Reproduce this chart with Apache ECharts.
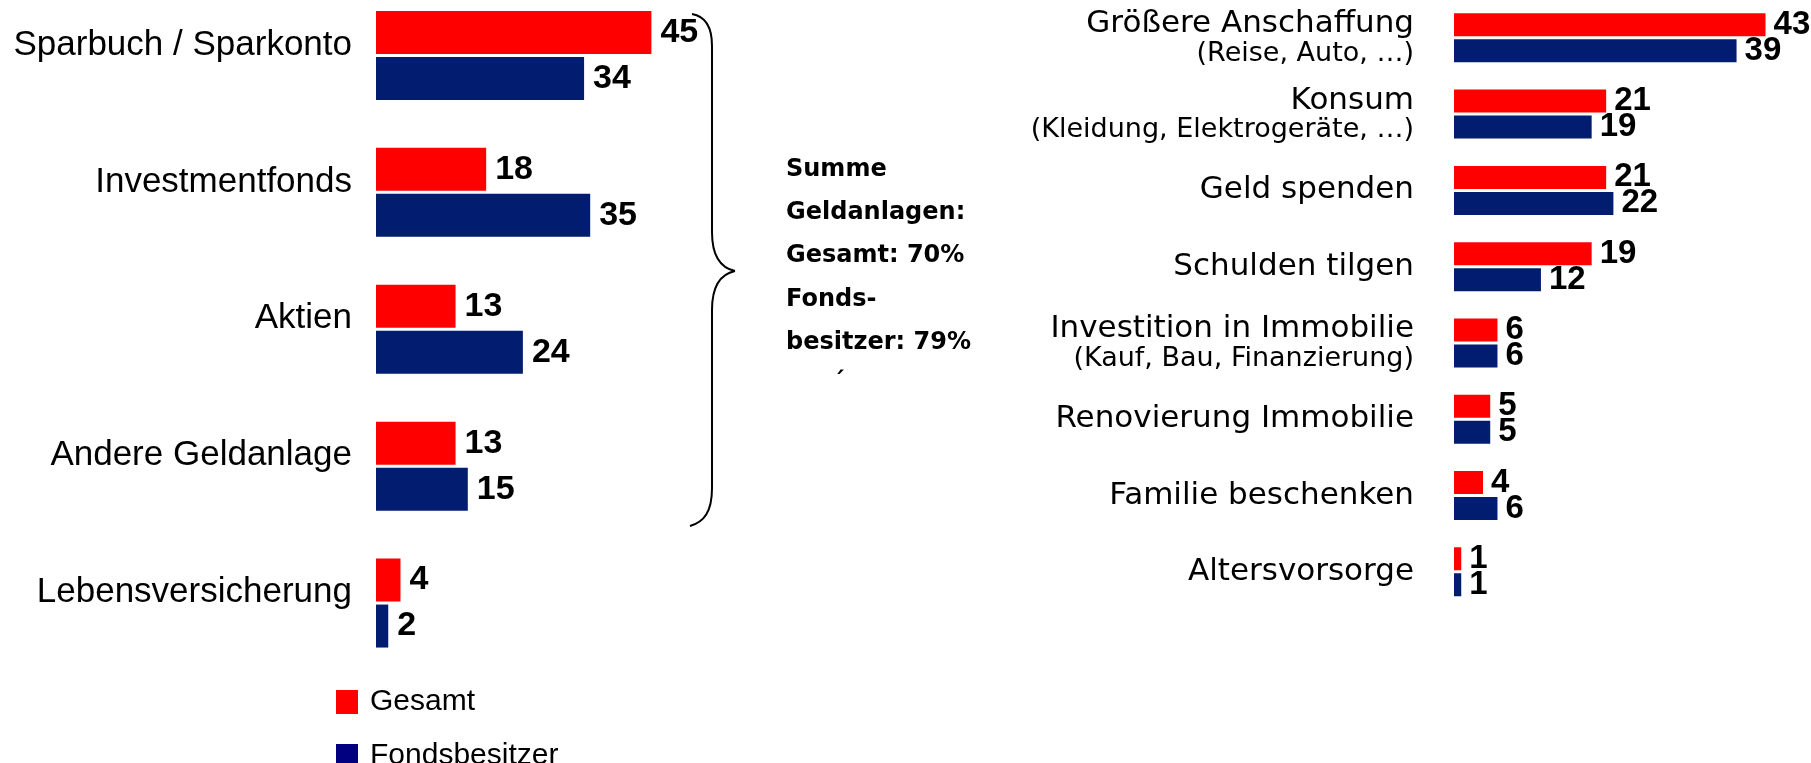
<!DOCTYPE html>
<html>
<head>
<meta charset="utf-8">
<script src="https://cdn.jsdelivr.net/npm/echarts@6/dist/echarts.min.js"></script>
<style>
  html, body { margin: 0; padding: 0; background: #fff; overflow: hidden; }
  /* chart is moved up a bit, so the first bar group can sit close to the top edge */
  #chart { position: absolute; left: 0; top: -13px; width: 1811px; height: 776px; }
</style>
</head>
<body>
<div id="chart"></div>
<script>
// Geldanlagen (links)
const anlageKategorien = ["Sparbuch / Sparkonto", "Investmentfonds", "Aktien", "Andere Geldanlage", "Lebensversicherung"];
const anlageGesamt = [45, 18, 13, 13, 4];
const anlageFonds = [34, 35, 24, 15, 2];

// Verwendung (rechts)
const verwendungKategorien = [
  "Größere Anschaffung\n(Reise, Auto, …)",
  "Konsum\n(Kleidung, Elektrogeräte, …)",
  "Geld spenden",
  "Schulden tilgen",
  "Investition in Immobilie\n(Kauf, Bau, Finanzierung)",
  "Renovierung Immobilie",
  "Familie beschenken",
  "Altersvorsorge"
];
const verwendungGesamt = [43, 21, 21, 19, 6, 5, 4, 1];
const verwendungFonds = [39, 19, 22, 12, 6, 5, 6, 1];

const summeText = ["Summe", "Geldanlagen:", "Gesamt: 70%", "Fonds-", "besitzer: 79%"];

const RED = "#ff0000";
const BLUE = "#021c70";
const FONT = "Liberation Sans, Arial, sans-serif";
const WIDE = "DejaVu Sans, sans-serif";
const DY = 13; // offset of the chart div

const chart = echarts.init(document.getElementById("chart"));

const leftLabel = {
  show: true,
  position: "right",
  distance: 9,
  color: "#000",
  fontFamily: FONT,
  fontWeight: "bold",
  fontSize: 34
};
const rightLabel = Object.assign({}, leftLabel, { distance: 8, fontSize: 33 });

const braceStyle = { stroke: "#000", lineWidth: 2, fill: null };
const curve = (x1, y1, a, b, c, d, x2, y2) => ({
  type: "bezierCurve",
  shape: { x1: x1, y1: y1 + DY, cpx1: a, cpy1: b + DY, cpx2: c, cpy2: d + DY, x2: x2, y2: y2 + DY },
  style: braceStyle
});
const line = (x1, y1, x2, y2) => ({
  type: "line",
  shape: { x1: x1, y1: y1 + DY, x2: x2, y2: y2 + DY },
  style: braceStyle
});

const option = {
  animation: false,
  textStyle: { fontFamily: FONT },
  legend: {
    left: 336,
    top: 687 + DY,
    height: 120,
    orient: "vertical",
    itemWidth: 22,
    itemHeight: 24,
    itemGap: 24,
    padding: 0,
    icon: "rect",
    textStyle: { fontSize: 30, color: "#000", padding: [0, 0, 0, 7] },
    data: [
      { name: "Gesamt", itemStyle: { color: RED } },
      { name: "Fondsbesitzer", itemStyle: { color: "#000080" } }
    ]
  },
  grid: [
    { left: 376, top: 0, width: 612, height: 684.5 },
    { left: 1454, top: 12.7, width: 355, height: 610.2 }
  ],
  xAxis: [
    { gridIndex: 0, type: "value", min: 0, max: 100, show: false },
    { gridIndex: 1, type: "value", min: 0, max: 49, show: false }
  ],
  yAxis: [
    {
      gridIndex: 0,
      type: "category",
      inverse: true,
      data: anlageKategorien,
      axisLine: { show: false },
      axisTick: { show: false },
      axisLabel: {
        margin: 24,
        color: "#000",
        // empty second line lifts the label a little above the bar pair
        formatter: (v) => "{a|" + v + "}\n{s| }",
        rich: {
          a: { fontSize: 35, lineHeight: 40, color: "#000", align: "right" },
          s: { fontSize: 8, lineHeight: 21, align: "right" }
        }
      }
    },
    {
      gridIndex: 1,
      type: "category",
      inverse: true,
      data: verwendungKategorien,
      axisLine: { show: false },
      axisTick: { show: false },
      axisLabel: {
        margin: 40,
        color: "#000",
        formatter: function (v) {
          const parts = v.split("\n");
          if (parts.length === 1) return "{a|" + parts[0] + "}";
          return "{a|" + parts[0] + "}\n{b|" + parts[1] + "}";
        },
        rich: {
          a: { fontFamily: WIDE, fontSize: 31, lineHeight: 32, color: "#000", align: "right" },
          b: { fontFamily: WIDE, fontSize: 27, lineHeight: 27, color: "#000", align: "right" }
        }
      }
    }
  ],
  series: [
    {
      name: "Gesamt",
      type: "bar",
      xAxisIndex: 0,
      yAxisIndex: 0,
      data: anlageGesamt,
      barWidth: 43,
      barGap: "7%",
      itemStyle: { color: RED },
      label: leftLabel
    },
    {
      name: "Fondsbesitzer",
      type: "bar",
      xAxisIndex: 0,
      yAxisIndex: 0,
      data: anlageFonds,
      barWidth: 43,
      itemStyle: { color: BLUE },
      label: leftLabel
    },
    {
      name: "Gesamt",
      type: "bar",
      xAxisIndex: 1,
      yAxisIndex: 1,
      data: verwendungGesamt,
      barWidth: 23,
      barGap: "13%",
      itemStyle: { color: RED },
      label: rightLabel
    },
    {
      name: "Fondsbesitzer",
      type: "bar",
      xAxisIndex: 1,
      yAxisIndex: 1,
      data: verwendungFonds,
      barWidth: 23,
      itemStyle: { color: BLUE },
      label: rightLabel
    }
  ],
  graphic: [
    // geschweifte Klammer
    curve(692, 14, 704, 16, 712, 26, 712, 46),
    line(712, 46, 712, 232),
    curve(712, 232, 712, 256, 721, 268, 735, 271),
    curve(735, 271, 721, 274, 712, 286, 712, 310),
    line(712, 310, 712, 488),
    curve(712, 488, 712, 512, 704, 522, 690, 526),
    {
      type: "text",
      left: 786,
      top: 148 + DY,
      style: {
        text: summeText.join("\n"),
        font: "bold 24px " + WIDE,
        lineHeight: 43.3,
        fill: "#000"
      }
    },
    {
      type: "text",
      left: 833,
      top: 371 + DY,
      style: { text: "´", font: "bold 24px " + WIDE, fill: "#000" }
    }
  ]
};

chart.setOption(option);
</script>
</body>
</html>
